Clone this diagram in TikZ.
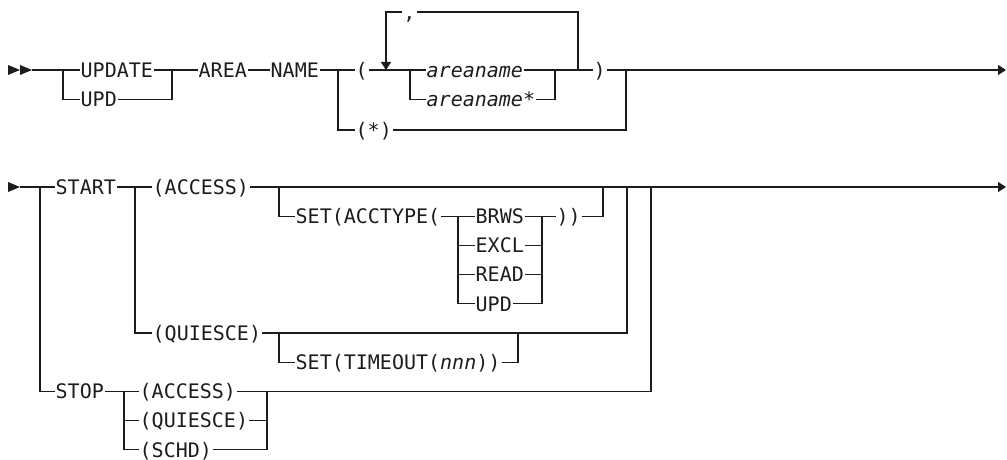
\documentclass[tikz,border=0pt]{standalone}
\usepackage{fontspec}
\setmonofont{DejaVu Sans Mono}
\usepackage{tikz}
\usetikzlibrary{arrows.meta}
\definecolor{ink}{HTML}{1C1C1C}

\begin{document}
\begin{tikzpicture}[x=1pt,y=-1pt,
    rail/.style={draw=ink,line width=1.1pt},
    railend/.style={-{Triangle[length=8pt,width=10pt]}},
    kw/.style={anchor=west,text=ink,inner xsep=1pt,inner ysep=0pt,
      text height=14.6pt,text depth=0pt,
      font=\ttfamily\fontsize{20}{22}\selectfont},
    var/.style={kw,font=\ttfamily\itshape\fontsize{20}{22}\selectfont}]
  \useasboundingbox (0,0) rectangle (1007,460);

  % UPDATE AREA NAME
  \fill[ink] (8,65) -- (20,70) -- (8,75) -- cycle;
  \fill[ink] (20,65) -- (32,70) -- (20,75) -- cycle;
  \coordinate (in1) at (32,70);
  \coordinate (out1) at (1006,70);
  \coordinate (forkU) at (63,70);
  \coordinate (joinU) at (172,70);
  \coordinate (forkP) at (338,70);
  \coordinate (loopL) at (386,70);
  \coordinate (forkA) at (410,70);
  \coordinate (joinA) at (555,70);
  \coordinate (loopR) at (578,70);
  \coordinate (joinP) at (626,70);

  \node[kw] (update) at (79.5,70) {UPDATE};
  \node[kw] (upd) at (79.5,99.5) {UPD};
  \node[kw] (area) at (197.5,70) {AREA};
  \node[kw] (name) at (269.5,70) {NAME};
  \node[kw] (lpar) at (354.5,70) {(};
  \node[var] (aname) at (425.5,70) {areaname};
  \node[var] (anamest) at (425.5,99.5) {areaname*};
  \node[kw] (rpar) at (592.5,70) {)};
  \node[kw] (allareas) at (354.5,130) {(*)};
  \node[kw,anchor=center] (comma) at (409.5,12) {,};

  \draw[rail] (in1) -- (update.west);
  \draw[rail] (forkU) |- (upd.west);
  \draw[rail] (update.east) -- (area.west);
  \draw[rail] (upd.east) -| (joinU);
  \draw[rail] (area.east) -- (name.west);
  \draw[rail] (name.east) -- (lpar.west);
  \draw[rail] (forkP) |- (allareas.west);
  \draw[rail] (lpar.east) -- (aname.west);
  \draw[rail] (forkA) |- (anamest.west);
  \draw[rail] (aname.east) -- (rpar.west);
  \draw[rail] (anamest.east) -| (joinA);
  \draw[rail] (loopR) |- (comma.east);
  \draw[rail,railend] (comma.west) -| (loopL);
  \draw[rail,railend] (rpar.east) -- (out1);
  \draw[rail] (allareas.east) -| (joinP);

  % START / STOP
  \fill[ink] (8,182) -- (20,187) -- (8,192) -- cycle;
  \coordinate (in2) at (20,187);
  \coordinate (out2) at (1006,187);
  \coordinate (forkS) at (40,187);
  \coordinate (forkQ) at (135,187);
  \coordinate (forkSet) at (279,187);
  \coordinate (forkT) at (458,216.2);
  \coordinate (joinT) at (542,216.2);
  \coordinate (joinSet) at (603,187);
  \coordinate (joinQ) at (627,187);
  \coordinate (forkTo) at (279,333);
  \coordinate (joinTo) at (518,333);
  \coordinate (forkStop) at (124,391.4);
  \coordinate (joinStop) at (267,391.4);
  \coordinate (joinS) at (651,187);

  \node[kw] (start) at (54.5,187) {START};
  \node[kw] (access) at (151.5,187) {(ACCESS)};
  \node[kw] (setacc) at (294.5,216.2) {SET(ACCTYPE(};
  \node[kw] (brws) at (474.5,216.2) {BRWS};
  \node[kw] (excl) at (474.5,245.4) {EXCL};
  \node[kw] (read) at (474.5,274.6) {READ};
  \node[kw] (updacc) at (474.5,303.8) {UPD};
  \node[kw] (closeacc) at (555.5,216.2) {))};
  \node[kw] (quiesce) at (151.5,333) {(QUIESCE)};
  \node[kw] (settime) at (294.5,362.2) {SET(TIMEOUT(\textit{nnn}))};
  \node[kw] (stop) at (54.5,391.4) {STOP};
  \node[kw] (stopacc) at (138.5,391.4) {(ACCESS)};
  \node[kw] (stopqui) at (138.5,420.6) {(QUIESCE)};
  \node[kw] (stopschd) at (138.5,449.8) {(SCHD)};

  \draw[rail] (in2) -- (start.west);
  \draw[rail] (forkS) |- (stop.west);
  \draw[rail] (start.east) -- (access.west);
  \draw[rail] (forkQ) |- (quiesce.west);
  \draw[rail,railend] (access.east) -- (out2);
  \draw[rail] (forkSet) |- (setacc.west);
  \draw[rail] (setacc.east) -- (brws.west);
  \foreach \n in {excl,read,updacc}
    \draw[rail] (forkT) |- (\n.west);
  \draw[rail] (brws.east) -- (closeacc.west);
  \foreach \n in {excl,read,updacc}
    \draw[rail] (\n.east) -| (joinT);
  \draw[rail] (closeacc.east) -| (joinSet);
  \draw[rail] (quiesce.east) -| (joinQ);
  \draw[rail] (forkTo) |- (settime.west);
  \draw[rail] (settime.east) -| (joinTo);
  \draw[rail] (stop.east) -- (stopacc.west);
  \foreach \n in {stopqui,stopschd}
    \draw[rail] (forkStop) |- (\n.west);
  \draw[rail] (stopacc.east) -| (joinS);
  \foreach \n in {stopqui,stopschd}
    \draw[rail] (\n.east) -| (joinStop);
\end{tikzpicture}
\end{document}
